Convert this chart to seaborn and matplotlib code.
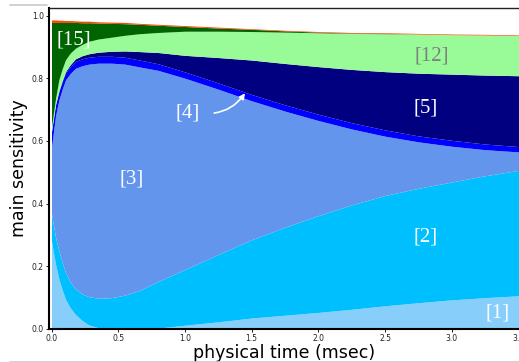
import matplotlib
matplotlib.use("Agg")
import matplotlib.pyplot as plt
import pandas as pd
import seaborn as sns
from matplotlib.lines import Line2D

# physical time grid (msec)
time_ms = [0.0, 0.03, 0.055, 0.08, 0.105, 0.14, 0.18, 0.23, 0.28, 0.35, 0.45, 0.55,
           0.66, 0.8, 1.0, 1.25, 1.5, 1.75, 2.0, 2.25, 2.5, 2.75, 3.0, 3.25, 3.5]

# main sensitivity of each reaction (stacked from the bottom)
sens_r1 = [0.28, 0.207, 0.16, 0.125, 0.095, 0.068, 0.046, 0.027, 0.013, 0.004, 0.001, 0.0,
           0.0, 0.003, 0.012, 0.023, 0.035, 0.044, 0.053, 0.063, 0.074, 0.084, 0.093, 0.10, 0.106]
sens_r2 = [0.088, 0.086, 0.09, 0.087, 0.085, 0.082, 0.082, 0.085, 0.09, 0.094, 0.099, 0.108,
           0.123, 0.149, 0.178, 0.215, 0.25, 0.281, 0.309, 0.333, 0.352, 0.365, 0.376, 0.389, 0.40]
sens_r3 = [0.212, 0.387, 0.48, 0.553, 0.615, 0.665, 0.704, 0.728, 0.742, 0.75, 0.748, 0.737,
           0.713, 0.673, 0.61, 0.527, 0.443, 0.37, 0.303, 0.242, 0.189, 0.148, 0.114, 0.083, 0.059]
sens_r4 = [0.05, 0.035, 0.027, 0.024, 0.022, 0.022, 0.022, 0.022, 0.022, 0.022, 0.022, 0.022,
           0.022, 0.021, 0.02, 0.02, 0.02, 0.02, 0.02, 0.02, 0.02, 0.019, 0.019, 0.018, 0.017]
sens_r5 = [0.0, 0.001, 0.002, 0.003, 0.004, 0.006, 0.008, 0.01, 0.011, 0.013, 0.016, 0.02,
           0.027, 0.036, 0.053, 0.081, 0.11, 0.132, 0.152, 0.17, 0.186, 0.2, 0.211, 0.22, 0.226]
sens_r12 = [0.015, 0.019, 0.036, 0.038, 0.038, 0.037, 0.034, 0.036, 0.04, 0.042, 0.045, 0.05,
            0.057, 0.064, 0.077, 0.084, 0.091, 0.10, 0.108, 0.115, 0.121, 0.125, 0.126, 0.128, 0.128]
sens_r15 = [0.333, 0.243, 0.183, 0.148, 0.119, 0.098, 0.082, 0.069, 0.059, 0.051, 0.044, 0.037,
            0.030, 0.023, 0.015, 0.010, 0.007, 0.004, 0.002, 0.001, 0.001, 0.0, 0.0, 0.0, 0.0]
sens_rest = [0.008, 0.008, 0.007, 0.007, 0.006, 0.006, 0.005, 0.005, 0.005, 0.004, 0.004, 0.004,
             0.003, 0.003, 0.003, 0.003, 0.002, 0.002, 0.002, 0.002, 0.002, 0.002, 0.002, 0.002, 0.002]

reactions = ["[1]", "[2]", "[3]", "[4]", "[5]", "[12]", "[15]", "rest"]
colors = ["lightskyblue", "deepskyblue", "cornflowerblue", "blue", "navy",
          "palegreen", "darkgreen", "orangered"]

df = pd.DataFrame(
    {"[1]": sens_r1, "[2]": sens_r2, "[3]": sens_r3, "[4]": sens_r4, "[5]": sens_r5,
     "[12]": sens_r12, "[15]": sens_r15, "rest": sens_rest},
    index=pd.Index(time_ms, name="time"),
)

sns.set_theme(style="ticks")
plt.rcParams["font.family"] = ["DejaVu Sans"]

W, H = 519, 362
fig = plt.figure(figsize=(W / 100, H / 100), dpi=100)
ax = fig.add_axes([48.7 / W, 33 / H, 1 - 48.7 / W, (329 - 7.7) / H])

ax.stackplot(df.index, *[df[r] for r in reactions], colors=colors, linewidth=0)

ax.set_xlim(-0.021, 3.503)
ax.set_ylim(0, 1.025)
ax.set_xticks([0.0, 0.5, 1.0, 1.5, 2.0, 2.5, 3.0, 3.5])
ax.set_yticks([0.0, 0.2, 0.4, 0.6, 0.8, 1.0])
ax.tick_params(labelsize=5.5, length=2, width=0.7, pad=1.5, colors="#222222")

for side in ("left", "bottom"):
    ax.spines[side].set_linewidth(1.5)
    ax.spines[side].set_color("black")
ax.spines["top"].set_linewidth(1.0)
ax.spines["top"].set_color("#222222")
ax.spines["right"].set_visible(False)

ax.set_xlabel("physical time (msec)", fontsize=12.5, labelpad=0.5, color="black")
ax.set_ylabel("main sensitivity", fontsize=12.5, labelpad=3, color="black")

# reaction labels inside their bands
label_font = dict(family="Liberation Serif", fontsize=15, ha="center", va="center")
ax.text(0.17, 0.922, "[15]", color="white", **label_font)
ax.text(0.60, 0.479, "[3]", color="white", **label_font)
ax.text(2.80, 0.705, "[5]", color="white", **label_font)
ax.text(2.85, 0.871, "[12]", color="gray", **label_font)
ax.text(2.80, 0.294, "[2]", color="white", **label_font)
ax.text(3.34, 0.051, "[1]", color="white", **label_font)
ax.annotate("[4]", xy=(1.45, 0.752), xytext=(1.02, 0.689), color="white",
            arrowprops=dict(arrowstyle="-|>", color="white", lw=1.2, mutation_scale=8,
                            connectionstyle="arc3,rad=0.3", relpos=(1, 0.5),
                            shrinkA=8, shrinkB=0),
            **label_font)

# thin frame lines of the figure panel
fig.add_artist(Line2D([10 / W, 1], [1 - 361.5 / H] * 2, color="#c8c8c8", lw=1.2))
fig.add_artist(Line2D([10 / W, 47 / W], [1 - 5 / H] * 2, color="#c8c8c8", lw=1.2))

fig.savefig("out.png", dpi=100)
